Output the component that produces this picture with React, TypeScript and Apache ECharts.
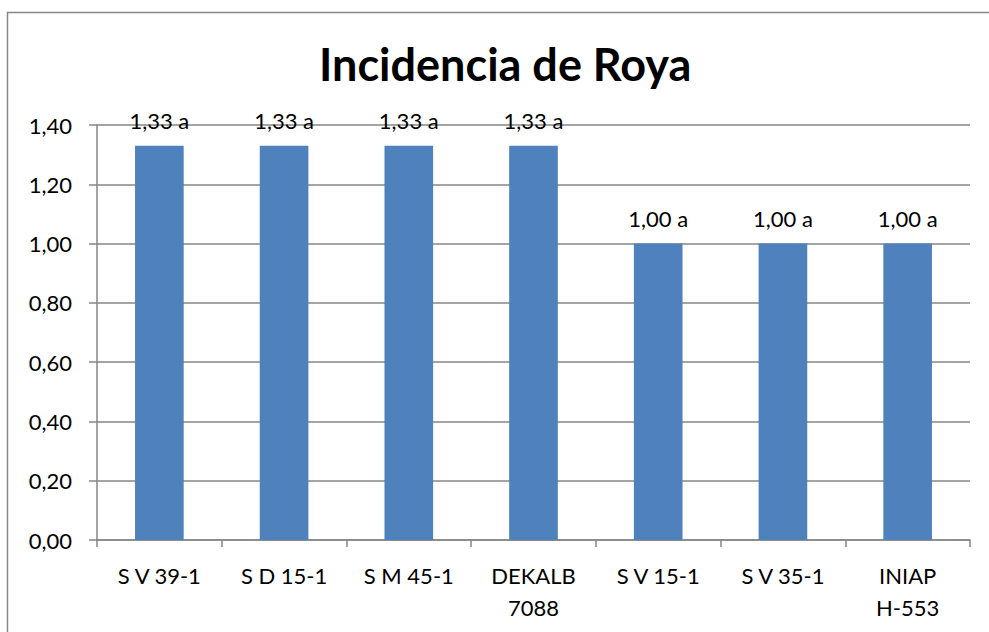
import React, { useEffect, useRef } from "react";
import * as echarts from "echarts";

const categories = ["S V 39-1", "S D 15-1", "S M 45-1", "DEKALB\n7088", "S V 15-1", "S V 35-1", "INIAP\nH-553"];
const values = [1.33, 1.33, 1.33, 1.33, 1.0, 1.0, 1.0];
const letters = ["a", "a", "a", "a", "a", "a", "a"];
const titleText = "Incidencia de Roya";

const FONT = "Lato, 'Open Sans', 'Liberation Sans', sans-serif";

export default function App() {
  const ref = useRef<HTMLDivElement>(null);
  useEffect(() => {
    document.body.style.margin = "0";
    const chart = echarts.init(ref.current!, null, { renderer: "svg" });
    chart.setOption({
      animation: false,
      backgroundColor: "#ffffff",
      title: {
        text: titleText,
        left: 314,
        top: 36,
        textStyle: { fontFamily: FONT, fontSize: 45, fontWeight: "bold", color: "#000" },
      },
      graphic: [
        {
          type: "rect",
          shape: { x: 7.5, y: 12.5, width: 1000, height: 700 },
          style: { fill: "none", stroke: "#868686", lineWidth: 1.5 },
          silent: true,
        },
      ],
      grid: { left: 97, right: 19, top: 125, bottom: 92, containLabel: false },
      xAxis: {
        type: "category",
        data: categories,
        axisLine: { lineStyle: { color: "#868686", width: 1.5 } },
        axisTick: { show: true, length: 7, lineStyle: { color: "#868686", width: 1.5 } },
        axisLabel: { color: "#000", fontFamily: FONT, fontSize: 22, margin: 19, lineHeight: 32, interval: 0 },
      },
      yAxis: {
        type: "value",
        min: 0,
        max: 1.4,
        interval: 0.2,
        axisLine: { show: true, lineStyle: { color: "#868686", width: 1.5 } },
        axisTick: { show: true, length: 8, lineStyle: { color: "#868686", width: 1.5 } },
        splitLine: { lineStyle: { color: "#868686", width: 1.5 } },
        axisLabel: {
          color: "#000",
          fontFamily: FONT,
          fontSize: 22,
          margin: 25,
          formatter: (v: number) => v.toFixed(2).replace(".", ","),
        },
      },
      series: [
        {
          type: "bar",
          data: values,
          barWidth: "39%",
          itemStyle: { color: "#4F81BD" },
          label: {
            show: true,
            position: "top",
            distance: 14,
            color: "#000",
            fontFamily: FONT,
            fontSize: 22,
            formatter: (p: any) => p.value.toFixed(2).replace(".", ",") + " " + letters[p.dataIndex],
          },
        },
      ],
    });
    return () => chart.dispose();
  }, []);
  return <div ref={ref} style={{ width: 989, height: 632 }} />;
}
